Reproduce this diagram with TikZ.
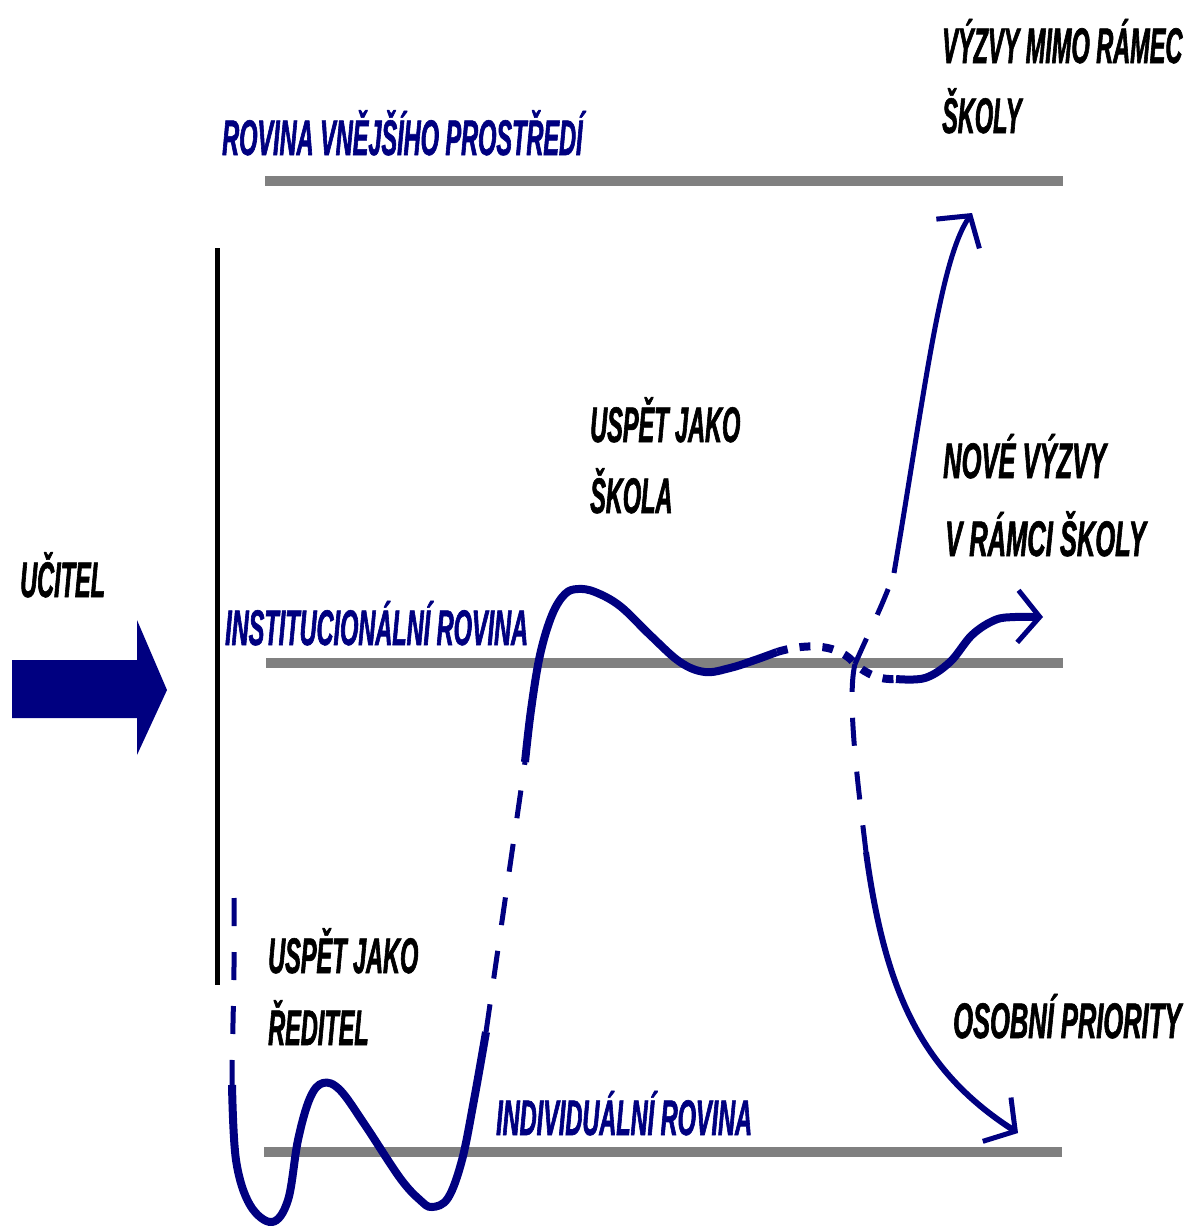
\documentclass[tikz,border=0pt]{standalone}
\usepackage{fontspec}
\usepackage{xcolor}
\usepackage{tikz}
\usetikzlibrary{calc,arrows.meta}
\newfontfamily\labfont[FakeStretch=0.47,FakeBold=1.2]{Liberation Sans}
\newfontfamily\widefont[FakeStretch=0.51,FakeBold=1.2]{Liberation Sans}
\definecolor{navy}{HTML}{000080}
\definecolor{rovgray}{HTML}{808080}
\tikzset{
	lab/.style={font=\labfont\fontsize{50}{60}\selectfont\bfseries\itshape,inner sep=0pt,anchor=base west},
	widelab/.style={lab,font=\widefont\fontsize{50}{60}\selectfont\bfseries\itshape},
	rov/.style={lab,text=navy},
	rovline/.style={draw=rovgray,line width=10pt},
	wave/.style={draw=navy,line width=8pt},
	branch/.style={draw=navy,line width=5pt},
	longdash/.style={branch,dash pattern=on 28pt off 26pt},
	shortdash/.style={wave,dash pattern=on 11pt off 12pt},
	tip/.style={-{Straight Barb[angle=100:34pt,line width=5pt]}}
}
\begin{document}
\begin{tikzpicture}[x=1pt,y=1pt]
			\useasboundingbox (0,0) rectangle (1187,-1226);
			\coordinate (cross) at (855,-664);
			\coordinate (upend) at (972,-213);
			\coordinate (rightend) at (1043,-617);
			\coordinate (downend) at (1018,-1133);
			\draw[rovline] (265,-181) -- (1063,-181);
			\draw[rovline] (266,-663) -- (1063,-663);
			\draw[rovline] (264,-1152) -- (1062,-1152);
			\draw[line width=5pt] (217,-248) -- (217,-985);
			\fill[navy] (12,-660) -- (137,-660) -- (137,-620) -- (167,-690)
				-- (137,-755) -- (137,-718) -- (12,-718) -- cycle;
			\node[lab] (ucitel) at (20,-597) {UČITEL};
			\node[rov] (vnejsi) at (222,-155) {ROVINA VNĚJŠÍHO PROSTŘEDÍ};
			\node[rov] (inst) at (225,-645) {INSTITUCIONÁLNÍ ROVINA};
			\node[rov] (indiv) at (496,-1135) {INDIVIDUÁLNÍ ROVINA};
			\node[lab] (mimoA) at (942,-63) {VÝZVY MIMO RÁMEC};
			\node[lab] (mimoB) at ($(mimoA.base west)+(0,-70)$) {ŠKOLY};
			\node[lab] (skolaA) at (590,-442) {USPĚT JAKO};
			\node[lab] (skolaB) at ($(skolaA.base west)+(0,-71)$) {ŠKOLA};
			\node[widelab] (noveA) at (943,-478) {NOVÉ VÝZVY};
			\node[widelab] (noveB) at ($(noveA.base west)+(2,-78)$) {V RÁMCI ŠKOLY};
			\node[lab] (reditelA) at (268,-973) {USPĚT JAKO};
			\node[lab] (reditelB) at ($(reditelA.base west)+(0,-72)$) {ŘEDITEL};
			\node[widelab] (osobni) at (953,-1038) {OSOBNÍ PRIORITY};
			\draw[longdash] (234,-898) .. controls (235,-980) and (232,-1040) .. (232,-1085);
			\draw[wave] plot[smooth,tension=0.6] coordinates {(232,-1085) (236,-1160) (250,-1205)
				(272,-1222) (288,-1200) (298,-1140) (310,-1098) (323,-1083) (340,-1090) (365,-1125)
				(400,-1178) (420,-1200) (432,-1207) (448,-1198) (462,-1160) (474,-1100) (486,-1032)};
			\draw[longdash] (486,-1032) -- (525,-762);
			\draw[wave] plot[smooth,tension=0.6] coordinates {(525,-762) (531,-710) (540,-655)
				(552,-615) (565,-594) (578,-589) (595,-592) (620,-606) (650,-635) (680,-662)
				(705,-672) (730,-668) (755,-660) (777,-652)};
			\draw[shortdash] (777,-652) .. controls (810,-642) and (840,-645) .. (cross)
				.. controls (868,-675) and (880,-680) .. (896,-679);
			\draw[wave,tip] plot[smooth,tension=0.6] coordinates {(896,-679) (925,-678) (950,-662)
				(972,-635) (995,-620) (1015,-617) (rightend)};
			\draw[longdash] (cross) .. controls (870,-630) and (885,-600) .. (894,-573);
			\draw[branch,tip] (894,-573) .. controls (925,-390) and (940,-260) .. (upend);
			\draw[longdash] (cross) .. controls (846,-700) and (860,-800) .. (866,-852);
			\draw[branch,line width=6pt,tip] (866,-852) .. controls (885,-990) and (920,-1070) .. (downend);
		\end{tikzpicture}
\end{document}
